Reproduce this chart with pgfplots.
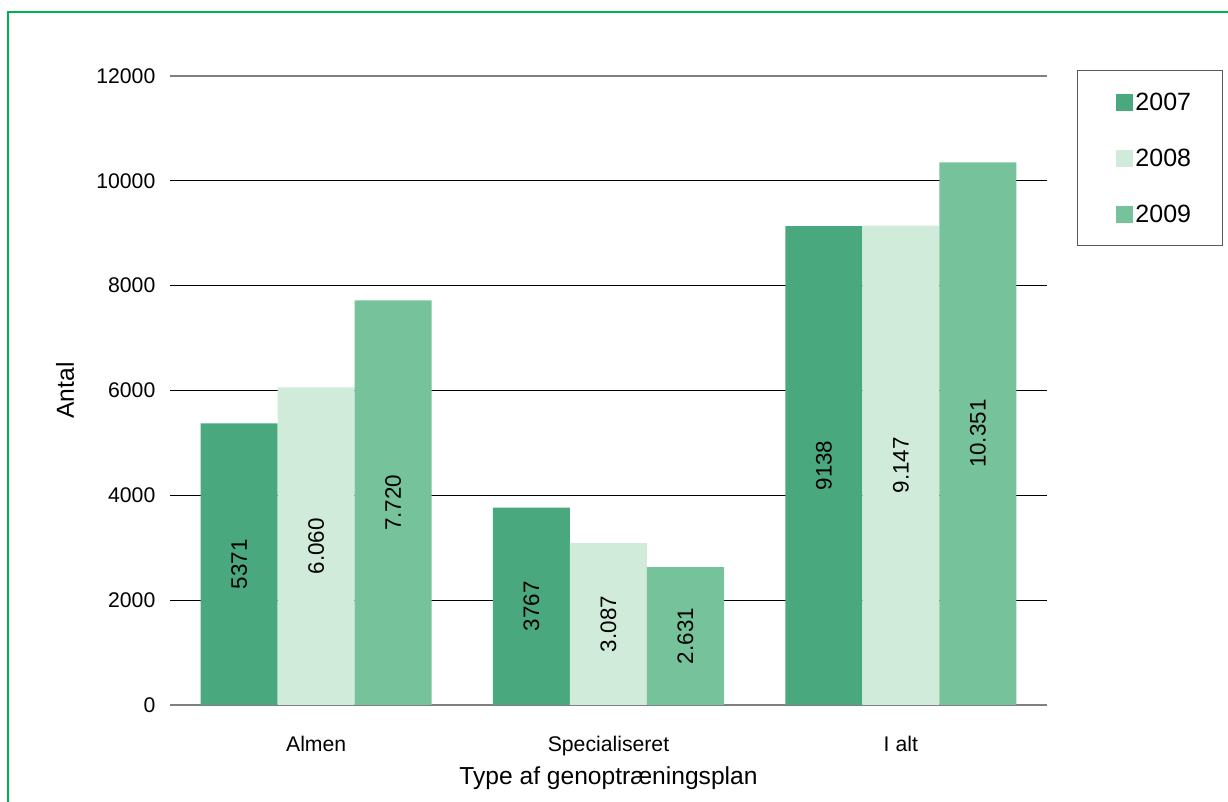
\documentclass[border=0pt]{standalone}
\usepackage{pgfplots}
\pgfplotsset{compat=1.18}
\usepackage{fontspec}
\setmainfont{Liberation Sans}
\definecolor{cA}{HTML}{4AA87E}
\definecolor{cB}{HTML}{D1EBDB}
\definecolor{cC}{HTML}{76C39B}
\definecolor{frame}{HTML}{00B050}
\begin{document}
\begin{tikzpicture}[x=1pt,y=1pt]
\useasboundingbox (0,0) rectangle (614,401);
\draw[color=frame, line width=1pt] (4,0) -- (4,395) -- (614,395);
\begin{axis}[
  at={(85pt,48.5pt)}, anchor=south west,
  scale only axis, width=438.5pt, height=314.5pt,
  ybar=0pt, bar width=38.5pt,
  xmin=-0.5, xmax=2.5, ymin=0, ymax=12000,
  xtick={0,1,2}, xticklabels={Almen,Specialiseret,I alt},
  xtick style={draw=none},
  extra x ticks={-0.5,0.5,1.5,2.5}, extra x tick labels={},
  extra x tick style={tick style={draw=gray, line width=0.5pt}, major tick length=3pt, tick align=outside},
  ytick={0,2000,4000,6000,8000,10000},
  extra y ticks={12000},
  extra y tick style={grid style={gray, line width=0.6pt}, tick style={draw=none}},
  ytick style={draw=none},
  scaled y ticks=false,
  /pgf/number format/assume math mode=true,
  yticklabel={\pgfmathprintnumber[fixed, 1000 sep={}]{\tick}},
  ymajorgrids, grid style={black, line width=0.5pt},
  axis x line*=bottom, axis y line*=left,
  x axis line style={gray, line width=0.8pt, -},
  y axis line style={draw=none},
  tick label style={font=\fontsize{10.6}{13}\selectfont},
  xticklabel style={yshift=-8pt},
  yticklabel style={xshift=-3.8pt},
  xlabel={Type af genoptræningsplan},
  ylabel={Antal},
  every axis x label/.style={at={(rel axis cs:0.5,-0.116)}, anchor=center, font=\fontsize{12.3}{14}\selectfont},
  every axis y label/.style={at={(rel axis cs:-0.1197,0.5)}, anchor=center, rotate=90, font=\fontsize{12.3}{14}\selectfont},
  point meta=explicit symbolic,
  visualization depends on={y \as \rawy},
  nodes near coords,
  every node near coord/.append style={shift={(axis direction cs:0,-\rawy/2)}, rotate=90, anchor=center, font=\fontsize{11.2}{13}\selectfont},
  legend style={at={(rel axis cs:1.0342,1.0095)}, anchor=north west, draw=gray!70!black, line width=0.5pt, fill=white,
    inner xsep=14.5pt, inner ysep=11pt, row sep=19pt, font=\fontsize{12.5}{14}\selectfont,
    nodes={inner ysep=0pt, inner xsep=1pt, text height=9pt, text depth=0pt}},
  legend cell align=left,
]
\addplot[fill=cA, draw=none, legend image code/.code={\path (-5pt,0); \fill[cA] (0pt,-4.6pt) rectangle (8.5pt,3.9pt);}]
  coordinates {(0,5371) [5371] (1,3767) [3767] (2,9138) [9138]};
\addplot[fill=cB, draw=none, legend image code/.code={\path (-5pt,0); \fill[cB] (0pt,-4.6pt) rectangle (8.5pt,3.9pt);}]
  coordinates {(0,6060) [6.060] (1,3087) [3.087] (2,9147) [9.147]};
\addplot[fill=cC, draw=none, legend image code/.code={\path (-5pt,0); \fill[cC] (0pt,-4.6pt) rectangle (8.5pt,3.9pt);}]
  coordinates {(0,7720) [7.720] (1,2631) [2.631] (2,10351) [10.351]};
\legend{2007,2008,2009}
\end{axis}
\end{tikzpicture}
\end{document}
